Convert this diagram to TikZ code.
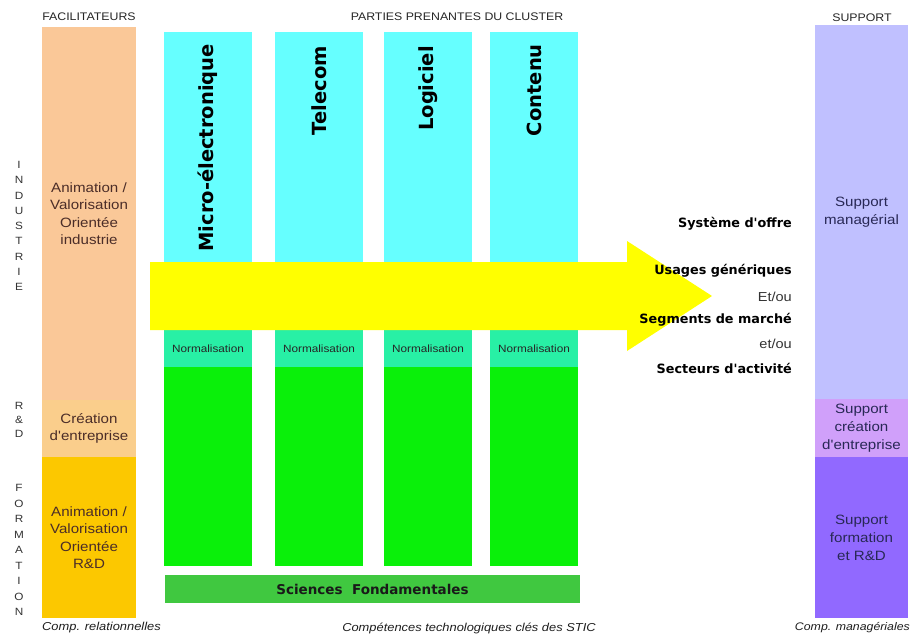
\documentclass[tikz,border=0pt]{standalone}
\usepackage{fontspec}
\usepackage{graphicx}
\setmainfont{Liberation Sans}
\newfontfamily\rfont[FakeStretch=1.12]{Liberation Sans}
\newfontfamily\hfont{DejaVu Sans}
\definecolor{peach}{RGB}{250,200,152}
\definecolor{creorange}{RGB}{250,206,140}
\definecolor{gold}{RGB}{252,200,0}
\definecolor{cyanbox}{RGB}{102,255,255}
\definecolor{teal}{RGB}{40,240,165}
\definecolor{greenbox}{RGB}{10,240,10}
\definecolor{scigreen}{RGB}{64,200,64}
\definecolor{arrowyellow}{RGB}{255,255,0}
\definecolor{lav}{RGB}{192,192,255}
\definecolor{lavpink}{RGB}{208,160,250}
\definecolor{purp}{RGB}{145,105,255}
\definecolor{lefttxt}{RGB}{75,45,40}
\definecolor{suptxt}{RGB}{40,40,85}
\definecolor{captxt}{RGB}{30,30,30}
\begin{document}
\begin{tikzpicture}[x=1pt,y=-1pt,
  box/.style={rectangle, inner sep=0pt, outer sep=0pt, anchor=north west, align=center},
  lefttext/.style={text=lefttxt, font=\rfont\fontsize{13.5}{17.5}\selectfont},
  suptext/.style={text=suptxt, font=\rfont\fontsize{13.5}{18}\selectfont},
  coltitle/.style={rotate=90, anchor=east, inner sep=0pt, font=\hfont\bfseries\fontsize{19.5}{22}\selectfont},
  normtext/.style={font=\rfont\fontsize{10.5}{12}\selectfont, text=black!85},
  offre/.style={anchor=east, inner sep=0pt, font=\hfont\bfseries\fontsize{12.8}{14}\selectfont},
  ortext/.style={anchor=east, inner sep=0pt, font=\rfont\fontsize{13}{14}\selectfont, text=black!80},
  head/.style={inner sep=0pt, font=\rfont\fontsize{11}{12}\selectfont, text=black!85},
  caption/.style={inner sep=0pt, font=\rfont\itshape\fontsize{11.5}{13}\selectfont, text=captxt},
  vletters/.style={inner sep=0pt, align=center, font=\rfont\fontsize{10.5}{#1}\selectfont, text=black!80}
]
\useasboundingbox (0,0) rectangle (913,634);
\fill[white] (0,0) rectangle (913,634);

% headings
\node[head] (hfac) at (89,17) {FACILITATEURS};
\node[head] (hpar) at (457,17) {PARTIES PRENANTES DU CLUSTER};
\node[head] (hsup) at (862,18) {SUPPORT};

% left vertical letters
\node[vletters=15.3] (vind) at (19,226) {I\\N\\D\\U\\S\\T\\R\\I\\E};
\node[vletters=14] (vrd) at (19,420) {R\\\&\\D};
\node[vletters=15.5] (vform) at (19,550) {F\\O\\R\\M\\A\\T\\I\\O\\N};

% left column
\node[box, lefttext, fill=peach, minimum width=94pt, minimum height=373pt] (ind) at (42,27) {Animation /\\Valorisation\\Orientée\\industrie};
\node[box, lefttext, fill=creorange, minimum width=94pt, minimum height=57pt] (cre) at (42,400) {Création\\d'entreprise};
\node[box, lefttext, fill=gold, minimum width=94pt, minimum height=161pt] (frm) at (42,457) {Animation /\\Valorisation\\Orientée\\R\&D};

% cluster columns
\foreach \i/\x in {1/164,2/275,3/384,4/490}{
  \node[box, fill=cyanbox, minimum width=88pt, minimum height=298pt] (c\i) at (\x,32) {};
  \node[box, normtext, fill=teal, minimum width=88pt, minimum height=37pt] (n\i) at (\x,330) {Normalisation};
  \node[box, fill=greenbox, minimum width=88pt, minimum height=199pt] (g\i) at (\x,367) {};
}
\node[coltitle] (t1) at (208,44) {Micro-électronique};
\node[coltitle] (t2) at (319,46) {Telecom};
\node[coltitle] (t3) at (428,46) {Logiciel};
\node[coltitle] (t4) at (534,44) {Contenu};

% big arrow
\fill[arrowyellow] (150,262) -- (627,262) -- (627,241) -- (712,296) -- (627,351) -- (627,330) -- (150,330) -- cycle;

% sciences fondamentales
\node[box, fill=scigreen, minimum width=415pt, minimum height=28pt, font=\hfont\bfseries\fontsize{13.5}{14}\selectfont, text=black!90] (sci) at (165,575) {Sciences\ \ Fondamentales};

% offer texts
\node[offre] (so) at (792,224) {Système d'offre};
\node[offre] (ug) at (792,271) {Usages génériques};
\node[ortext] (eo1) at (792,297) {Et/ou};
\node[offre] (sm) at (792,320) {Segments de marché};
\node[ortext] (eo2) at (792,344) {et/ou};
\node[offre] (sa) at (792,368) {Secteurs d'activité};

% right column
\node[box, suptext, fill=lav, minimum width=93pt, minimum height=374pt] (mgr) at (815,25) {Support\\managérial};
\node[box, suptext, fill=lavpink, minimum width=93pt, minimum height=58pt] (scr) at (815,399) {Support\\création\\d'entreprise};
\node[box, suptext, fill=purp, minimum width=93pt, minimum height=161pt] (sfr) at (815,457) {Support\\formation\\et R\&D};

% captions
\node[caption, anchor=west] (cap1) at (42,628) {Comp. relationnelles};
\node[caption] (cap2) at (469,628) {Compétences technologiques clés des STIC};
\node[caption, anchor=east, font=\rfont\itshape\fontsize{11}{13}\selectfont] (cap3) at (910,628) {Comp. managériales};
\end{tikzpicture}
\end{document}
